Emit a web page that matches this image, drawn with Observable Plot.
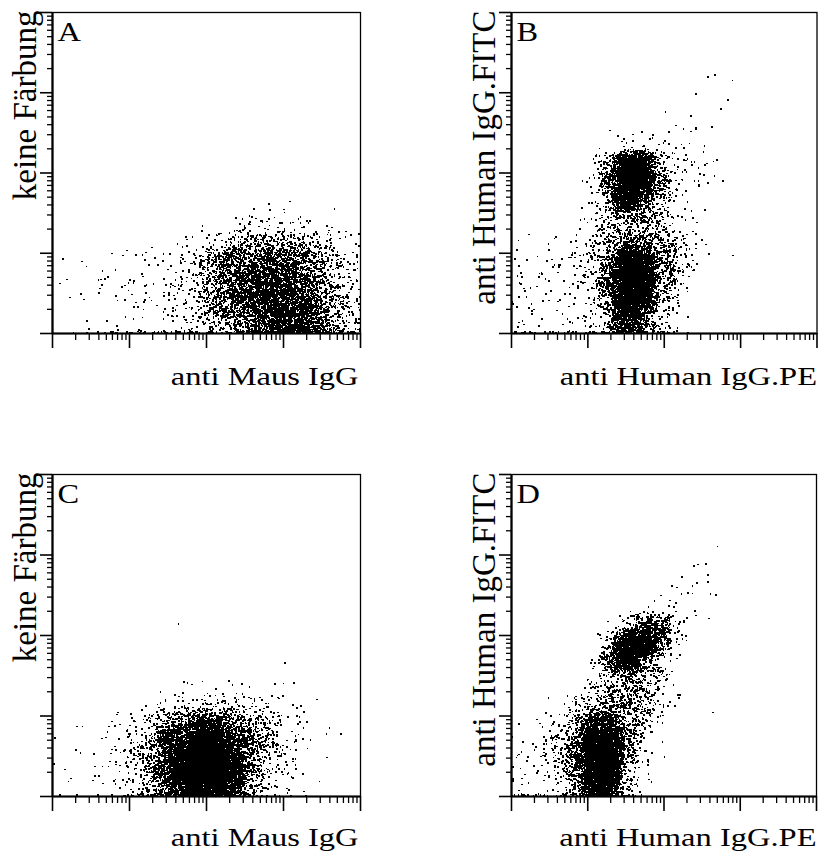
<!DOCTYPE html>
<html><head><meta charset="utf-8">
<script src="https://cdn.jsdelivr.net/npm/d3@7"></script>
<script src="https://cdn.jsdelivr.net/npm/@observablehq/plot@0.6"></script>
<style>
body{margin:0;background:#fff}
#c{position:relative;width:821px;height:852px;overflow:hidden}
#c svg{position:absolute}
</style>
</head><body><div id="c"></div>
<script>
// Panel letters and axis titles
const panelIds = ["A", "B", "C", "D"];
const xLabels = ["anti Maus IgG", "anti Human IgG.PE", "anti Maus IgG", "anti Human IgG.PE"];
const yLabels = ["keine Färbung", "anti Human IgG.FITC", "keine Färbung", "anti Human IgG.FITC"];

// Log axis ticks (4 decades)
const majorTicks = [1, 10, 100, 1000, 10000];
const minorTicks = [2,3,4,5,6,7,8,9, 20,30,40,50,60,70,80,90, 200,300,400,500,600,700,800,900, 2000,3000,4000,5000,6000,7000,8000,9000];

// Event density: 20x20 cells of 0.2 decade each,
// first string = top row (decade 3.8-4.0), last string = bottom row (0-0.2).
// Digit = density level, see levelCounts (events per cell).
const levelCounts = [0, 1, 4, 10, 20, 38, 65, 110, 200, 480];

const gridA = [
  "00000000000000000000","00000000000000000000","00000000000000000000","00000000000000000000",
  "00000000000000000000","00000000000000000000","00000000000000000000","00000000000000000000",
  "00000000000000000000","00000000000000000000","00000000000000000000",
  "00000000000001100000",
  "00000000000011211010",
  "00000000011233333221",
  "00001011223566665432",
  "11121222346777777543",
  "11121222346778887643",
  "11112223346788887653",
  "01111222346778888653",
  "00111122334567888754"
];
const gridB = [
  "00000000000000000000","00000000000000000000","00000000000000000000","00000000000000000000",
  "00000000000011100000",
  "00000000000011000000",
  "00000000001111000000",
  "00000011112210000000",
  "00000023332211000000",
  "00000369953321000000",
  "00000379973321000000",
  "00000269853210000000",
  "00001356653210000000",
  "00011355553210000000",
  "11122457765310000000",
  "21223469975310100000",
  "22223479975300000000",
  "22222379964100000000",
  "22122369853100000000",
  "21112358742000000000"
];
const gridC = [
  "00000000000000000000","00000000000000000000","00000000000000000000","00000000000000000000",
  "00000000000000000000","00000000000000000000","00000000000000000000","00000000000000000000",
  "00000000000000000000",
  "00000000100000000000",
  "00000000000000000000",
  "00000000000000000000",
  "00000000000000100000",
  "00000001222221101000",
  "00001123444443321100",
  "01112346788765422110",
  "11122458899876431100",
  "11123468999975421100",
  "01112468999975321000",
  "11112357899864221000"
];
const gridD = [
  "00000000000000000000","00000000000000000000","00000000000000000000","00000000000000000000",
  "00000000000001000000",
  "00000000000011000000",
  "00000000001121000000",
  "00000000011211000000",
  "00000000122210000000",
  "00000013785100000000",
  "00000149983100000000",
  "00000379742000000000",
  "00001355552000000000",
  "00012456642000000000",
  "01124566541001000000",
  "11246886520000000000",
  "12357996410000000000",
  "22358996310000000000",
  "22347995300000000000",
  "21236984200000000000"
];
// Events piled up on the lower axis (count per 0.2-decade column)
const floorA = [0,1,2,3,3,4,5,6,8,8,10,10,10,10,12,12,12,10,8,6];
const floorB = [6,5,5,5,5,6,8,10,10,6,3,1,0,0,0,0,0,0,0,0];
const floorC = [1,1,1,2,3,4,6,8,10,10,10,8,6,4,2,1,1,0,0,0];
const floorD = [6,4,4,5,7,9,9,5,2,0,0,0,0,0,0,0,0,0,0,0];

const grids = [gridA, gridB, gridC, gridD];
const floors = [floorA, floorB, floorC, floorD];

// layout (pixels)
const layout = [
  {left: 52,  top: 12,  w: 308,   h: 321, gap: 51, dxLab: -2},
  {left: 511, top: 12,  w: 305.5, h: 321, gap: 51, dxLab: 0},
  {left: 52,  top: 474, w: 308,   h: 322, gap: 49, dxLab: -2},
  {left: 511, top: 474, w: 305,   h: 322, gap: 49, dxLab: 0}
];

const CELL = 0.2;
// deterministic in-cell placement (integer hash -> [0,1))
function h01(n) {
  n = Math.imul(n ^ (n >>> 16), 0x45d9f3b);
  n = Math.imul(n ^ (n >>> 16), 0x45d9f3b);
  n = n ^ (n >>> 16);
  return (n >>> 0) / 4294967296;
}
const fold = d => { if (d < 0.01) d = 0.02 - d; if (d > 3.99) d = 7.98 - d; return d; };

function events(grid, floor, p) {
  const pts = [];
  const n = grid.length;
  grid.forEach((row, i) => {
    const r = n - 1 - i;
    [...row].forEach((ch, c) => {
      const cnt = levelCounts[+ch];
      for (let k = 0; k < cnt; k++) {
        const s = ((p * 400 + r * 20 + c) * 1024 + k) * 4;
        // tent-shaped spread over the cell and half of its neighbours
        const ox = h01(s) + h01(s + 1) - 0.5;
        const oy = h01(s + 2) + h01(s + 3) - 0.5;
        pts.push({x: 10 ** fold((c + ox) * CELL), y: 10 ** fold((r + oy) * CELL)});
      }
    });
  });
  floor.forEach((cnt, c) => {
    for (let k = 0; k < cnt; k++) {
      const s = ((p * 20 + c) * 64 + k) * 2 + 99991;
      pts.push({x: 10 ** fold((c + h01(s)) * CELL), y: 10 ** (0.008 + 0.012 * h01(s + 1))});
    }
  });
  return pts;
}

const font = "'Liberation Serif', 'Times New Roman', serif";
const container = document.getElementById("c");

panelIds.forEach((id, i) => {
  const L = layout[i];
  const mL = 52, mT = 12, mR = 6, mB = 64;
  const svg = Plot.plot({
    width: mL + L.w + mR,
    height: mT + L.h + mB,
    marginLeft: mL, marginTop: mT, marginRight: mR, marginBottom: mB,
    x: {type: "log", domain: [1, 1e4]},
    y: {type: "log", domain: [1, 1e4]},
    style: {background: "white", fontFamily: font, overflow: "visible", color: "black"},
    marks: [
      Plot.dot(events(grids[i], floors[i], i), {x: "x", y: "y", r: 0.95, symbol: "square", fill: "black", shapeRendering: "crispEdges"}),
      Plot.frame({stroke: "black", strokeWidth: 1.3}),
      Plot.axisX({ticks: majorTicks, tickSize: 15, tickFormat: () => "", label: null, strokeWidth: 1.6}),
      Plot.axisX({ticks: minorTicks, tickSize: 7, tickFormat: () => "", label: null, strokeWidth: 1.3}),
      Plot.axisY({ticks: majorTicks, tickSize: 12, tickFormat: () => "", label: null, strokeWidth: 1.6}),
      Plot.axisY({ticks: minorTicks, tickSize: 5, tickFormat: () => "", label: null, strokeWidth: 1.3}),
      Plot.ruleY([1], {stroke: "black", strokeWidth: 2.2}),
      Plot.ruleX([1], {stroke: "black", strokeWidth: 2.2}),
      Plot.text([id], {frameAnchor: "top-left", textAnchor: "start", lineAnchor: "bottom", dx: 5, dy: 28, fontSize: 27, fill: "black"}),
      Plot.text([xLabels[i]], {frameAnchor: "bottom-right", textAnchor: "end", lineAnchor: "bottom", dx: L.dxLab, dy: L.gap, fontSize: 25, fill: "black"}),
      Plot.text([yLabels[i]], {frameAnchor: "top-left", rotate: -90, textAnchor: "end", lineAnchor: "bottom", dx: -17, dy: -2, fontSize: 33, fill: "black"})
    ]
  });
  svg.style.left = (L.left - mL) + "px";
  svg.style.top = (L.top - mT) + "px";
  container.appendChild(svg);
  // horizontally stretched lettering, as in the original print
  svg.querySelectorAll("text").forEach(t => {
    const s = t.textContent;
    if (s === id || s === xLabels[i]) {
      const len = t.getComputedTextLength();
      t.setAttribute("textLength", (len * (s === id ? 1.2 : 1.3)).toFixed(1));
      t.setAttribute("lengthAdjust", "spacingAndGlyphs");
    }
  });
});
</script>
</body></html>
